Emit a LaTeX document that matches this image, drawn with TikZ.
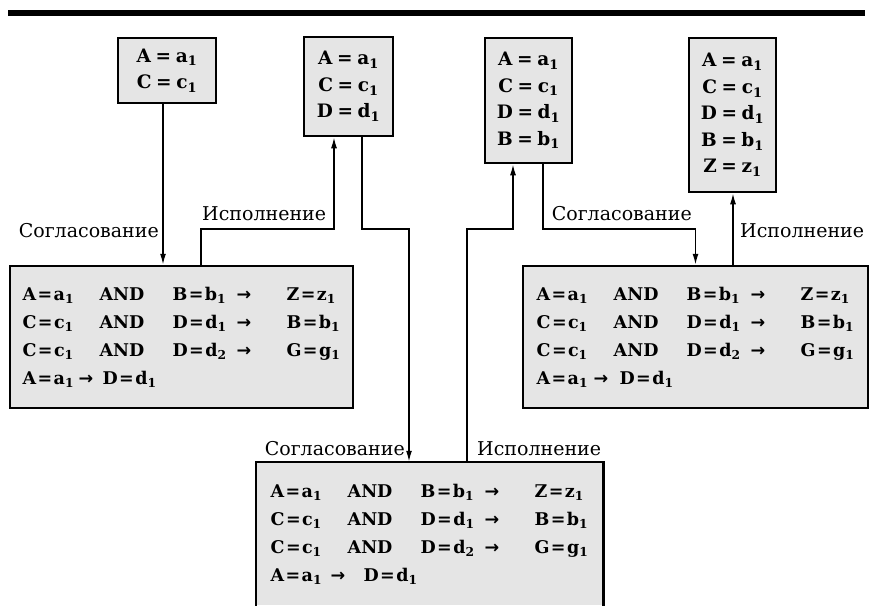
\documentclass[tikz,border=0pt]{standalone}
\usepackage{fontspec}
\setmainfont{DejaVu Serif}
\newfontfamily\arrfont{DejaVu Sans}
\usetikzlibrary{arrows.meta,calc}
\newcommand{\eqv}[3]{#1\hspace{0.08em}=\hspace{0.08em}#2\textsubscript{#3}}
\newcommand{\eqs}[3]{#1\hspace{0.25em}=\hspace{0.25em}#2\textsubscript{#3}}
\newcommand{\arr}{{\arrfont\bfseries →}}
\newcommand{\rul}[3]{\makebox[77pt][l]{#1}\makebox[73pt][l]{AND}\makebox[64pt][l]{#2}\makebox[50pt][l]{\arr}#3}
\newcommand{\rulfour}[4]{\makebox[#1][l]{#3}\makebox[#2][l]{\arr}#4}
\tikzset{
  boxline/.style={line width=2.5pt},
  boxfill/.style={fill=black!10},
  smallbox/.style={draw,boxline,boxfill,inner sep=0pt,align=center,
    font=\bfseries\fontsize{18.5}{26.5}\selectfont},
  bigbox/.style={draw,boxline,boxfill,inner sep=0pt,align=left,
    minimum width=343pt,minimum height=142pt,
    font=\bfseries\fontsize{17.5}{28}\selectfont},
  conn/.style={line width=1.5pt,-{Latex[length=11pt,width=6pt]}},
  lab/.style={inner sep=0pt,font=\fontsize{19}{22}\selectfont},
}
\begin{document}
\begin{tikzpicture}[x=1pt,y=-1pt]
\useasboundingbox (0,0) rectangle (869,605);
\fill (8,10) rectangle (865,16);
% small boxes
\node[smallbox,minimum width=98pt,minimum height=65pt] (b1) at (167,70.5)
  {\eqs{A}{a}{1}\\\eqs{C}{c}{1}};
\node[smallbox,minimum width=89pt,minimum height=99pt] (b2) at (348.5,86.5)
  {\eqs{A}{a}{1}\\\eqs{C}{c}{1}\\\eqs{D}{d}{1}};
\node[smallbox,minimum width=87pt,minimum height=125pt] (b3) at (528.5,100.5)
  {\eqs{A}{a}{1}\\\eqs{C}{c}{1}\\\eqs{D}{d}{1}\\\eqs{B}{b}{1}};
\node[smallbox,minimum width=87pt,minimum height=154pt] (b4) at (732.5,115)
  {\eqs{A}{a}{1}\\\eqs{C}{c}{1}\\\eqs{D}{d}{1}\\\eqs{B}{b}{1}\\\eqs{Z}{z}{1}};
% big boxes
\node[bigbox] (L) at (181.5,337)
  {\rul{\eqv{A}{a}{1}}{\eqv{B}{b}{1}}{\eqv{Z}{z}{1}}\\
   \rul{\eqv{C}{c}{1}}{\eqv{D}{d}{1}}{\eqv{B}{b}{1}}\\
   \rul{\eqv{C}{c}{1}}{\eqv{D}{d}{2}}{\eqv{G}{g}{1}}\\
   \rulfour{56pt}{24pt}{\eqv{A}{a}{1}}{\eqv{D}{d}{1}}};
\node[bigbox,minimum width=345pt] (R) at (695.5,337)
  {\rul{\eqv{A}{a}{1}}{\eqv{B}{b}{1}}{\eqv{Z}{z}{1}}\\
   \rul{\eqv{C}{c}{1}}{\eqv{D}{d}{1}}{\eqv{B}{b}{1}}\\
   \rul{\eqv{C}{c}{1}}{\eqv{D}{d}{2}}{\eqv{G}{g}{1}}\\
   \rulfour{57pt}{26pt}{\eqv{A}{a}{1}}{\eqv{D}{d}{1}}};
\node[bigbox,draw=none,minimum width=345pt] (B) at (429.5,534)
  {\rul{\eqv{A}{a}{1}}{\eqv{B}{b}{1}}{\eqv{Z}{z}{1}}\\
   \rul{\eqv{C}{c}{1}}{\eqv{D}{d}{1}}{\eqv{B}{b}{1}}\\
   \rul{\eqv{C}{c}{1}}{\eqv{D}{d}{2}}{\eqv{G}{g}{1}}\\
   \rulfour{60pt}{33pt}{\eqv{A}{a}{1}}{\eqv{D}{d}{1}}};
\draw[boxline] ([yshift=-5pt]B.south west) -- (B.north west) -- (B.north east) -- ([yshift=-5pt]B.south east);
% level of the horizontal runs
\coordinate (h) at (0,229);
% connectors
\draw[conn] ([xshift=-4pt]b1.south) -- ([xshift=-4pt]b1.south |- L.north);
\draw[conn] ([xshift=19.5pt]L.north) -- ([xshift=19.5pt]L.north |- h)
  -- ([xshift=-14.5pt]b2.south |- h) -- ([xshift=-14.5pt]b2.south);
\draw[conn] ([xshift=13.5pt]b2.south) -- ([xshift=13.5pt]b2.south |- h)
  -- ([xshift=-20.5pt]B.north |- h) -- ([xshift=-20.5pt]B.north);
\draw[conn] ([xshift=37.5pt]B.north) -- ([xshift=37.5pt]B.north |- h)
  -- ([xshift=-15.5pt]b3.south |- h) -- ([xshift=-15.5pt]b3.south);
\draw[conn] ([xshift=14.5pt]b3.south) -- ([xshift=14.5pt]b3.south |- h)
  -- (R.north |- h) -- (R.north);
\draw[conn] ([xshift=37.5pt]R.north) -- ([xshift=37.5pt]R.north |- b4.south);
% labels
\node[lab,anchor=base east] (l1) at (159,237) {Согласование};
\node[lab,anchor=base west] (l2) at (202,220) {Исполнение};
\node[lab,anchor=base east] (l3) at (405,455) {Согласование};
\node[lab,anchor=base west] (l4) at (477,455) {Исполнение};
\node[lab,anchor=base east] (l5) at (692,220) {Согласование};
\node[lab,anchor=base west] (l6) at (740,237) {Исполнение};
\end{tikzpicture}
\end{document}
